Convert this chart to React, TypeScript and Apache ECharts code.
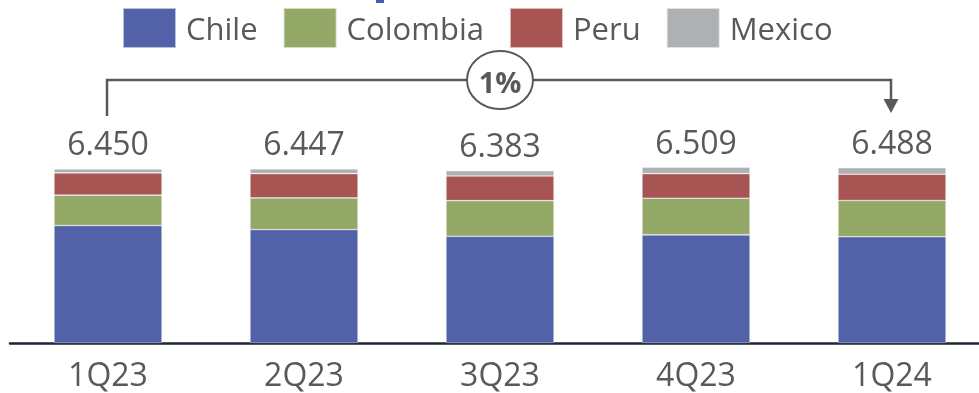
import React, { useEffect, useRef } from "react";
import * as echarts from "echarts";

// Quarterly volume by country (thousands), stacked
const quarters = ["1Q23", "2Q23", "3Q23", "4Q23", "1Q24"];
const chile = [4.351, 4.201, 3.952, 4.004, 3.935];
const colombia = [1.125, 1.173, 1.321, 1.358, 1.343];
const peru = [0.825, 0.899, 0.914, 0.91, 0.973];
const mexico = [0.149, 0.174, 0.196, 0.237, 0.237];

const seriesNames = ["Chile", "Colombia", "Peru", "Mexico"];
const seriesColors = ["#5261a8", "#94a867", "#a75552", "#aeb1b4"];

const FONT = "'Open Sans', 'Liberation Sans', sans-serif";
const TEXT = "#595959";

export default function App() {
  const ref = useRef<HTMLDivElement>(null);

  useEffect(() => {
    if (!ref.current) return;
    const chart = echarts.init(ref.current, undefined, { renderer: "svg" });
    const values = [chile, colombia, peru, mexico];
    const totals = quarters.map((_, i) =>
      values.reduce((s, arr) => s + arr[i], 0)
    );

    chart.setOption({
      animation: false,
      textStyle: { fontFamily: FONT },
      legend: {
        left: 122,
        top: 7,
        padding: 0,
        itemWidth: 53,
        itemHeight: 40,
        itemGap: 25,
        icon: "rect",
        data: seriesNames,
        textStyle: {
          fontFamily: FONT,
          fontSize: 31,
          color: TEXT,
          padding: [0, 0, 0, 5],
        },
      },
      grid: {
        left: 10,
        width: 980,
        top: 127,
        bottom: 50,
        outerBoundsMode: "none",
        containLabel: false,
      },
      xAxis: {
        type: "category",
        data: quarters,
        axisTick: { show: false },
        axisLine: { lineStyle: { color: "#1e2634", width: 2.5 } },
        axisLabel: {
          fontFamily: FONT,
          fontSize: 32,
          color: TEXT,
          margin: 14,
        },
      },
      yAxis: {
        type: "value",
        min: 0,
        max: 8,
        show: false,
        splitLine: { show: false },
      },
      series: seriesNames.map((name, k) => ({
        name,
        type: "bar",
        stack: "total",
        barWidth: 108,
        data: values[k],
        itemStyle: {
          color: seriesColors[k],
          borderColor: "rgba(255,255,255,0.6)",
          borderWidth: 0.6,
        },
        label:
          k === values.length - 1
            ? {
                show: true,
                position: "top",
                distance: 10,
                fontFamily: FONT,
                fontSize: 32,
                color: TEXT,
                formatter: (p: any) => totals[p.dataIndex].toFixed(3),
              }
            : { show: false },
      })),
    });

    // Growth bracket from the first to the last quarter
    const first = totals[0];
    const last = totals[totals.length - 1];
    const pct = Math.round((last / first - 1) * 100);
    const x0 = chart.convertToPixel({ xAxisIndex: 0 }, 0) as number;
    const x1 = chart.convertToPixel(
      { xAxisIndex: 0 },
      quarters.length - 1
    ) as number;
    const xm = (x0 + x1) / 2;
    const yLine = 80;
    const stroke = "#595959";

    chart.setOption({
      graphic: [
        {
          type: "rect",
          shape: { x: 376, y: 0, width: 8, height: 3 },
          style: { fill: "#4a5ab0" },
        },
        {
          type: "polyline",
          shape: {
            points: [
              [x0 - 1, 116],
              [x0 - 1, yLine],
              [x1 - 1, yLine],
              [x1 - 1, 100],
            ],
          },
          style: { stroke, lineWidth: 2.5, fill: "none" },
        },
        {
          type: "polygon",
          shape: {
            points: [
              [x1 - 8.5, 99],
              [x1 + 6.5, 99],
              [x1 - 1, 113],
            ],
          },
          style: { fill: stroke },
        },
        {
          type: "ellipse",
          shape: { cx: xm, cy: yLine, rx: 33, ry: 29 },
          style: { fill: "#ffffff", stroke, lineWidth: 2 },
        },
        {
          type: "text",
          x: xm,
          y: yLine + 1,
          style: {
            text: `${pct}%`,
            fontFamily: FONT,
            fontWeight: "bold",
            fontSize: 29,
            fill: stroke,
            align: "center",
            verticalAlign: "middle",
          },
        },
      ],
    });

    return () => chart.dispose();
  }, []);

  return (
    <div
      ref={ref}
      style={{ position: "fixed", left: 0, top: 0, width: 979, height: 393 }}
    />
  );
}
